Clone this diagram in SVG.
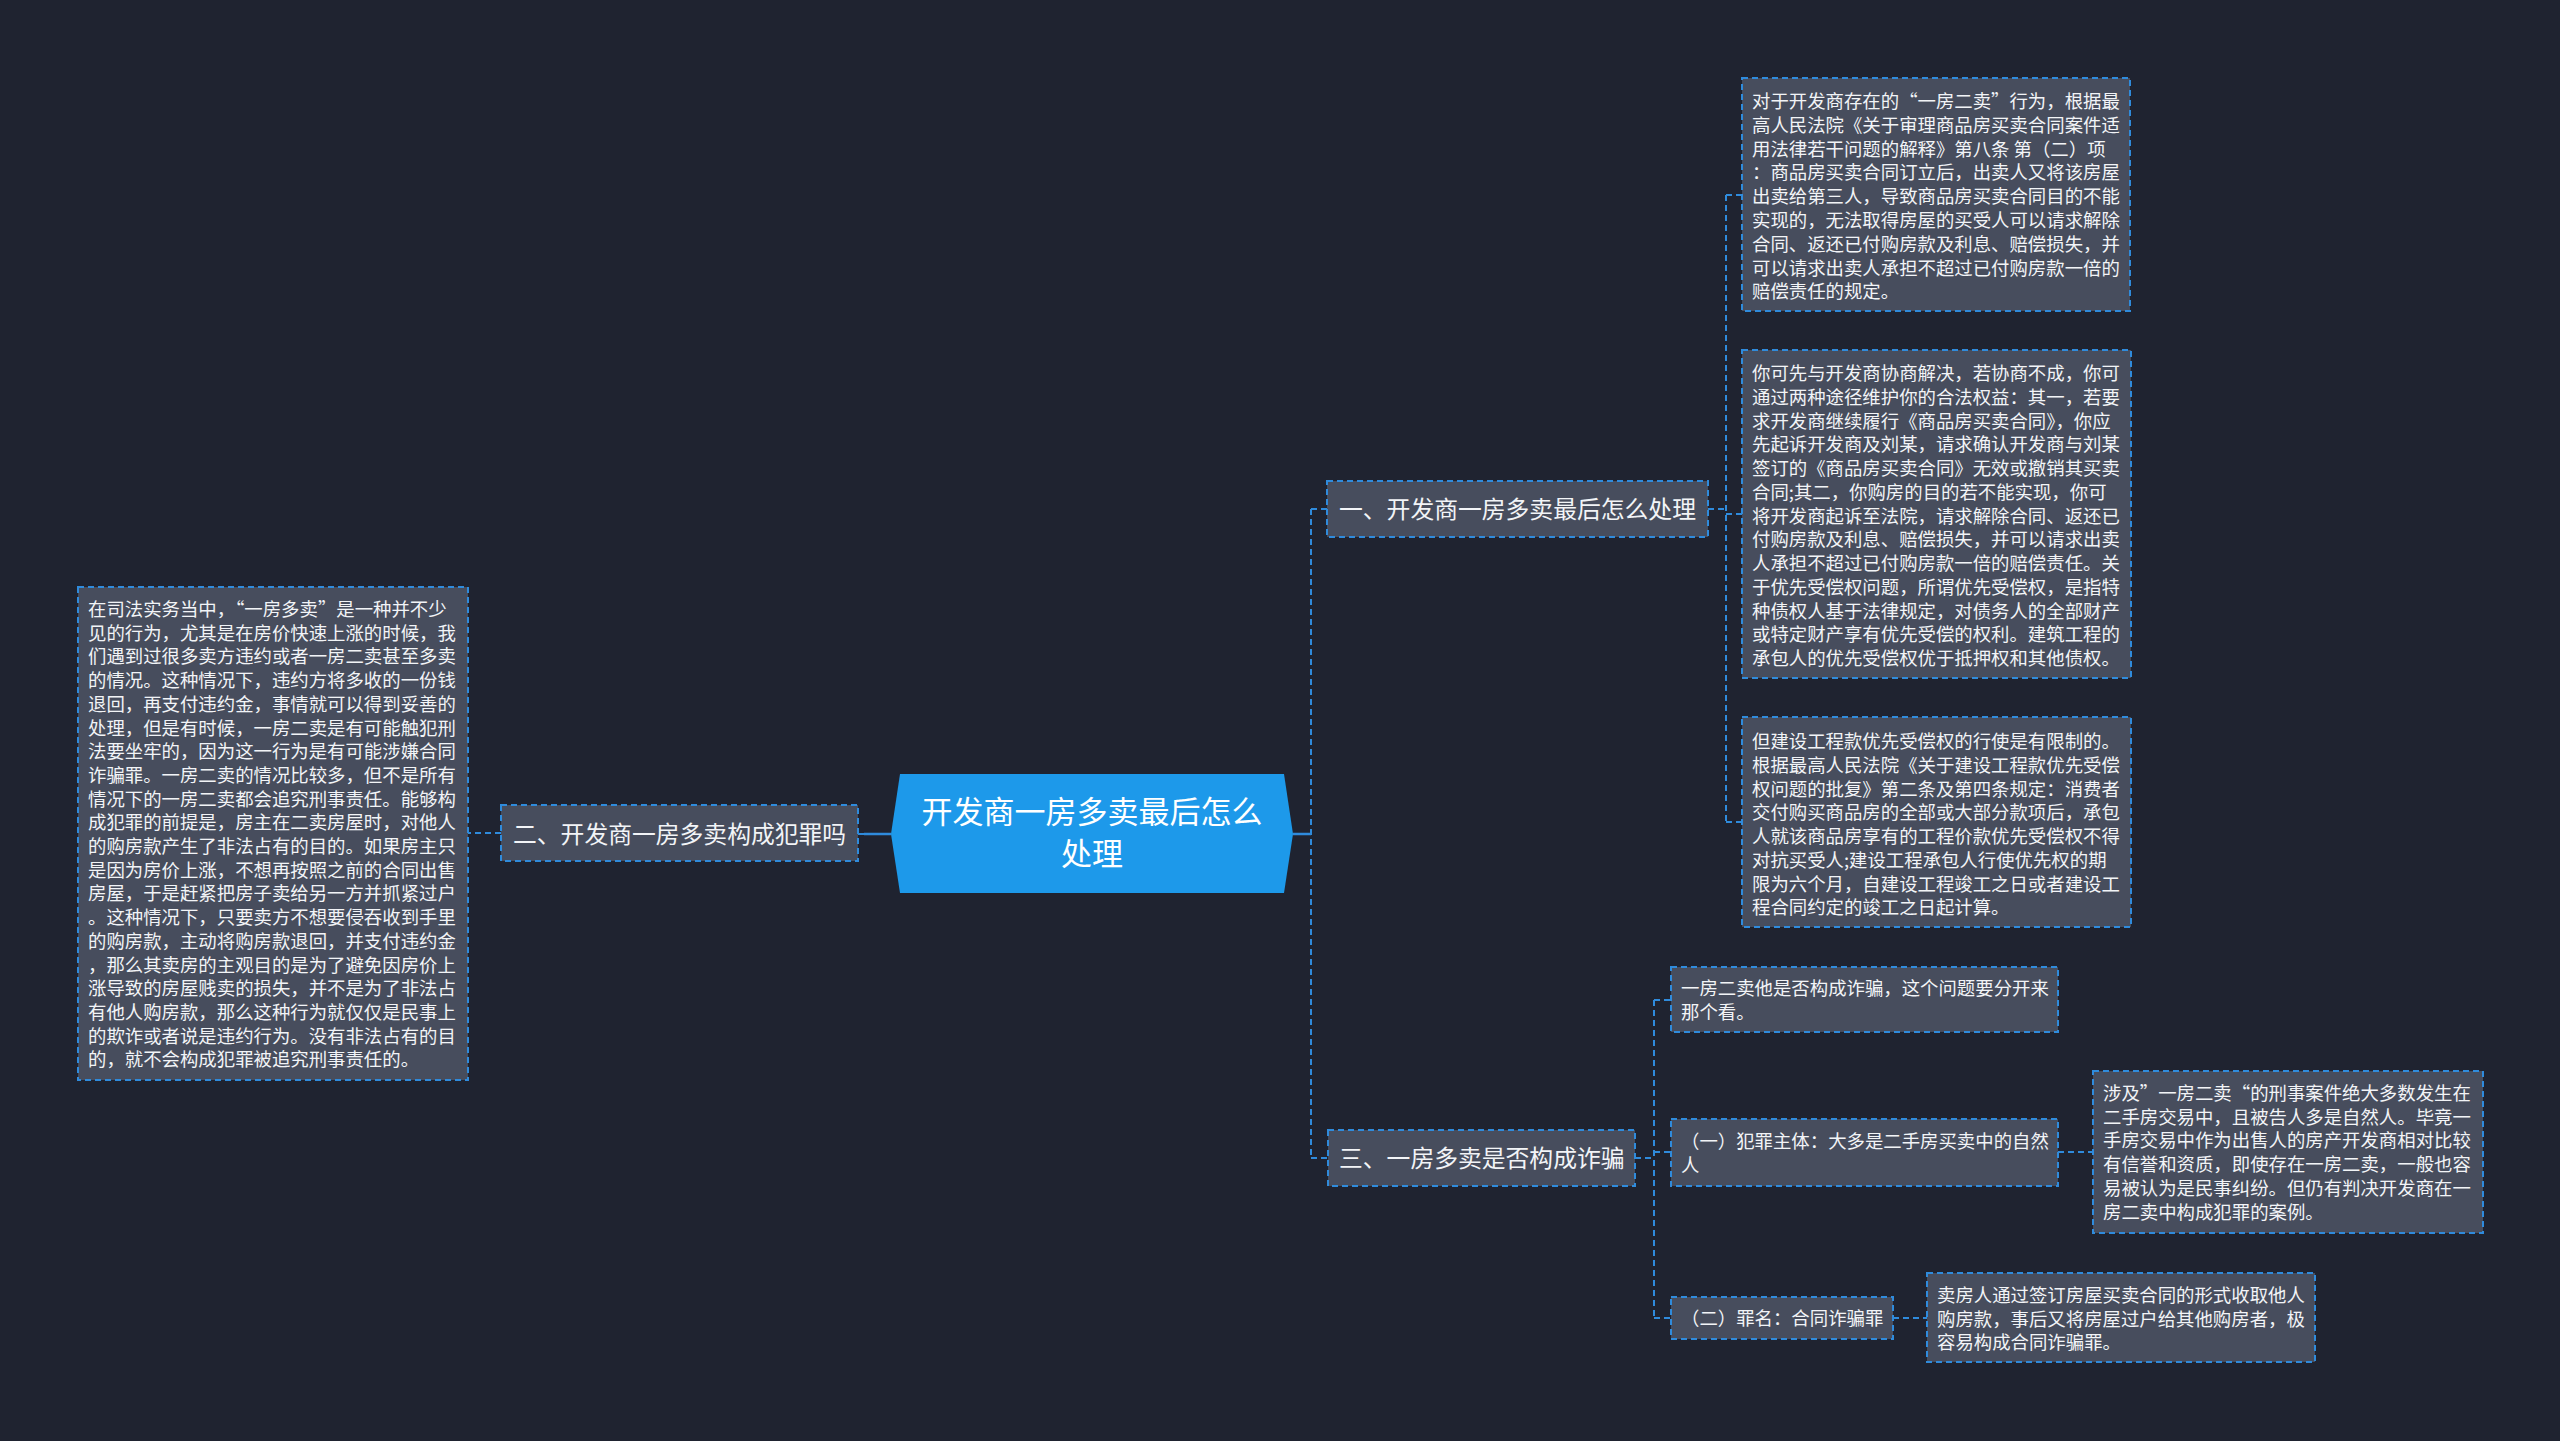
<svg xmlns="http://www.w3.org/2000/svg" width="2560" height="1441" viewBox="0 0 2560 1441">
<style>
text{font-family:"Noto Sans CJK SC","Noto Sans",sans-serif;fill:#f2f4f7}
.box{fill:#474d5d;stroke:#2f8bdc;stroke-width:2;stroke-dasharray:6 4}
.t{font-size:18.4px}
.b{font-size:23.8px}
.c{font-size:31px;fill:#ffffff}
.dl{fill:none;stroke:#2f8bdc;stroke-width:2;stroke-dasharray:6 4}
.sl{fill:none;stroke:#2f8bdc;stroke-width:2.5}
</style>
<rect width="2560" height="1441" fill="#1f2330"/>
<g id="connectors">
<path class="sl" d="M1293 834H1311"/>
<path class="dl" d="M1311 509V1158M1311 509H1327M1311 1158H1328"/>
<path class="sl" d="M891 834H864"/>
<path class="dl" d="M864 834H858M501 833H468"/>
<path class="dl" d="M1708 509H1726M1726 195V822M1726 195H1742M1726 514H1742M1726 822H1742"/>
<path class="dl" d="M1635 1158H1654M1654 1000V1318M1654 1000H1671M1654 1152H1671M1654 1318H1671"/>
<path class="dl" d="M2058 1152H2093"/>
<path class="dl" d="M1893 1318H1927"/>
</g>
<g id="center">
<path d="M900 774H1284L1293 834L1284 893H900L891 834Z" fill="#1d99ea"/>
<text class="c" text-anchor="middle"><tspan x="1092" y="823">开发商一房多卖最后怎么</tspan><tspan x="1092" y="865">处理</tspan></text>
</g>
<g id="branch1">
<rect class="box" x="1327" y="481" width="381" height="56"/>
<text class="b" x="1339" y="518">一、开发商一房多卖最后怎么处理</text>
</g>
<g id="branch2">
<rect class="box" x="501" y="805" width="357" height="56"/>
<text class="b" x="513" y="843">二、开发商一房多卖构成犯罪吗</text>
</g>
<g id="branch3">
<rect class="box" x="1328" y="1130" width="307" height="56"/>
<text class="b" x="1339" y="1167">三、一房多卖是否构成诈骗</text>
</g>
<g id="left-detail">
<rect class="box" x="78" y="587" width="390" height="493"/>
<text class="t">
<tspan x="88" y="616">在司法实务当中，“一房多卖”是一种并不少</tspan>
<tspan x="88" dy="23.7">见的行为，尤其是在房价快速上涨的时候，我</tspan>
<tspan x="88" dy="23.7">们遇到过很多卖方违约或者一房二卖甚至多卖</tspan>
<tspan x="88" dy="23.7">的情况。这种情况下，违约方将多收的一份钱</tspan>
<tspan x="88" dy="23.7">退回，再支付违约金，事情就可以得到妥善的</tspan>
<tspan x="88" dy="23.7">处理，但是有时候，一房二卖是有可能触犯刑</tspan>
<tspan x="88" dy="23.7">法要坐牢的，因为这一行为是有可能涉嫌合同</tspan>
<tspan x="88" dy="23.7">诈骗罪。一房二卖的情况比较多，但不是所有</tspan>
<tspan x="88" dy="23.7">情况下的一房二卖都会追究刑事责任。能够构</tspan>
<tspan x="88" dy="23.7">成犯罪的前提是，房主在二卖房屋时，对他人</tspan>
<tspan x="88" dy="23.7">的购房款产生了非法占有的目的。如果房主只</tspan>
<tspan x="88" dy="23.7">是因为房价上涨，不想再按照之前的合同出售</tspan>
<tspan x="88" dy="23.7">房屋，于是赶紧把房子卖给另一方并抓紧过户</tspan>
<tspan x="88" dy="23.7">。这种情况下，只要卖方不想要侵吞收到手里</tspan>
<tspan x="88" dy="23.7">的购房款，主动将购房款退回，并支付违约金</tspan>
<tspan x="88" dy="23.7">，那么其卖房的主观目的是为了避免因房价上</tspan>
<tspan x="88" dy="23.7">涨导致的房屋贱卖的损失，并不是为了非法占</tspan>
<tspan x="88" dy="23.7">有他人购房款，那么这种行为就仅仅是民事上</tspan>
<tspan x="88" dy="23.7">的欺诈或者说是违约行为。没有非法占有的目</tspan>
<tspan x="88" dy="23.7">的，就不会构成犯罪被追究刑事责任的。</tspan>
</text>
</g>
<g id="r1">
<rect class="box" x="1742" y="78" width="388" height="233"/>
<text class="t">
<tspan x="1752" y="108">对于开发商存在的“一房二卖”行为，根据最</tspan>
<tspan x="1752" dy="23.8">高人民法院《关于审理商品房买卖合同案件适</tspan>
<tspan x="1752" dy="23.8">用法律若干问题的解释》第八条 第（二）项</tspan>
<tspan x="1752" dy="23.8">：商品房买卖合同订立后，出卖人又将该房屋</tspan>
<tspan x="1752" dy="23.8">出卖给第三人，导致商品房买卖合同目的不能</tspan>
<tspan x="1752" dy="23.8">实现的，无法取得房屋的买受人可以请求解除</tspan>
<tspan x="1752" dy="23.8">合同、返还已付购房款及利息、赔偿损失，并</tspan>
<tspan x="1752" dy="23.8">可以请求出卖人承担不超过已付购房款一倍的</tspan>
<tspan x="1752" dy="23.8">赔偿责任的规定。</tspan>
</text>
</g>
<g id="r2">
<rect class="box" x="1742" y="350" width="389" height="328"/>
<text class="t">
<tspan x="1752" y="380">你可先与开发商协商解决，若协商不成，你可</tspan>
<tspan x="1752" dy="23.75">通过两种途径维护你的合法权益：其一，若要</tspan>
<tspan x="1752" dy="23.75">求开发商继续履行《商品房买卖合同》，你应</tspan>
<tspan x="1752" dy="23.75">先起诉开发商及刘某，请求确认开发商与刘某</tspan>
<tspan x="1752" dy="23.75">签订的《商品房买卖合同》无效或撤销其买卖</tspan>
<tspan x="1752" dy="23.75">合同;其二，你购房的目的若不能实现，你可</tspan>
<tspan x="1752" dy="23.75">将开发商起诉至法院，请求解除合同、返还已</tspan>
<tspan x="1752" dy="23.75">付购房款及利息、赔偿损失，并可以请求出卖</tspan>
<tspan x="1752" dy="23.75">人承担不超过已付购房款一倍的赔偿责任。关</tspan>
<tspan x="1752" dy="23.75">于优先受偿权问题，所谓优先受偿权，是指特</tspan>
<tspan x="1752" dy="23.75">种债权人基于法律规定，对债务人的全部财产</tspan>
<tspan x="1752" dy="23.75">或特定财产享有优先受偿的权利。建筑工程的</tspan>
<tspan x="1752" dy="23.75">承包人的优先受偿权优于抵押权和其他债权。</tspan>
</text>
</g>
<g id="r3">
<rect class="box" x="1742" y="717" width="389" height="210"/>
<text class="t">
<tspan x="1752" y="748">但建设工程款优先受偿权的行使是有限制的。</tspan>
<tspan x="1752" dy="23.75">根据最高人民法院《关于建设工程款优先受偿</tspan>
<tspan x="1752" dy="23.75">权问题的批复》第二条及第四条规定：消费者</tspan>
<tspan x="1752" dy="23.75">交付购买商品房的全部或大部分款项后，承包</tspan>
<tspan x="1752" dy="23.75">人就该商品房享有的工程价款优先受偿权不得</tspan>
<tspan x="1752" dy="23.75">对抗买受人;建设工程承包人行使优先权的期</tspan>
<tspan x="1752" dy="23.75">限为六个月，自建设工程竣工之日或者建设工</tspan>
<tspan x="1752" dy="23.75">程合同约定的竣工之日起计算。</tspan>
</text>
</g>
<g id="sub-a">
<rect class="box" x="1671" y="967" width="387" height="65"/>
<text class="t"><tspan x="1681" y="995">一房二卖他是否构成诈骗，这个问题要分开来</tspan><tspan x="1681" y="1019">那个看。</tspan></text>
</g>
<g id="sub-b">
<rect class="box" x="1671" y="1119" width="387" height="67"/>
<text class="t"><tspan x="1681" y="1148">（一）犯罪主体：大多是二手房买卖中的自然</tspan><tspan x="1681" y="1172">人</tspan></text>
</g>
<g id="sub-c">
<rect class="box" x="1671" y="1297" width="222" height="42"/>
<text class="t" x="1681" y="1325">（二）罪名：合同诈骗罪</text>
</g>
<g id="sub-b1">
<rect class="box" x="2093" y="1071" width="390" height="162"/>
<text class="t">
<tspan x="2103" y="1100">涉及”一房二卖“的刑事案件绝大多数发生在</tspan>
<tspan x="2103" dy="23.7">二手房交易中，且被告人多是自然人。毕竟一</tspan>
<tspan x="2103" dy="23.7">手房交易中作为出售人的房产开发商相对比较</tspan>
<tspan x="2103" dy="23.7">有信誉和资质，即使存在一房二卖，一般也容</tspan>
<tspan x="2103" dy="23.7">易被认为是民事纠纷。但仍有判决开发商在一</tspan>
<tspan x="2103" dy="23.7">房二卖中构成犯罪的案例。</tspan>
</text>
</g>
<g id="sub-c1">
<rect class="box" x="1927" y="1273" width="388" height="89"/>
<text class="t">
<tspan x="1937" y="1302">卖房人通过签订房屋买卖合同的形式收取他人</tspan>
<tspan x="1937" dy="23.7">购房款，事后又将房屋过户给其他购房者，极</tspan>
<tspan x="1937" dy="23.7">容易构成合同诈骗罪。</tspan>
</text>
</g>
</svg>
